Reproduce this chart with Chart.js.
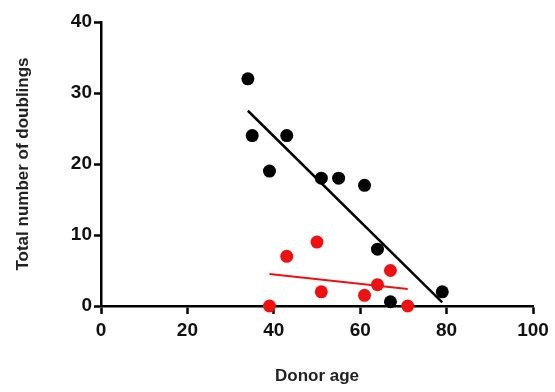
<!DOCTYPE html>
<html>
<head>
<meta charset="utf-8">
<script src="https://cdn.jsdelivr.net/npm/chart.js@4/dist/chart.umd.min.js"></script>
<style>
  html, body { margin: 0; padding: 0; background: #fff; }
  #wrap { width: 555px; height: 392px; }
</style>
</head>
<body>
<div id="wrap"><canvas id="c" width="555" height="392"></canvas></div>
<script>
const blackAge = [34, 35, 39, 43, 51, 55, 61, 64, 67, 79];
const blackDoublings = [32, 24, 19, 24, 18, 18, 17, 8, 0.6, 2];
const redAge = [39, 43, 50, 51, 61, 64, 67, 71];
const redDoublings = [0, 7, 9, 2, 1.5, 3, 5, 0];
const blackFitAge = [34, 79];
const blackFitDoublings = [27.5, 0.5];
const redFitAge = [39, 71];
const redFitDoublings = [4.5, 2.4];
const xTicks = [0, 20, 40, 60, 80, 100];
const yTicks = [0, 10, 20, 30, 40];

const pts = (xs, ys) => xs.map((x, i) => ({ x: x, y: ys[i] }));
const BLACK = '#000000';
const RED = '#ee1111';
const FAM = 'Liberation Sans, Arial, sans-serif';

new Chart(document.getElementById('c'), {
  type: 'scatter',
  data: {
    datasets: [
      { data: pts(blackFitAge, blackFitDoublings), showLine: true, borderColor: BLACK, borderWidth: 2.5, pointRadius: 0, order: 3, clip: false },
      { data: pts(redFitAge, redFitDoublings), showLine: true, borderColor: RED, borderWidth: 2, pointRadius: 0, order: 3, clip: false },
      { data: pts(redAge, redDoublings), backgroundColor: RED, borderColor: RED, borderWidth: 0, pointRadius: 6.5, order: 2, clip: false },
      { data: pts(blackAge, blackDoublings), backgroundColor: BLACK, borderColor: BLACK, borderWidth: 0, pointRadius: 6.5, order: 1, clip: false }
    ]
  },
  options: {
    responsive: false,
    animation: false,
    devicePixelRatio: 1,
    layout: { padding: { top: 22, right: 22, left: 0, bottom: 0 } },
    plugins: { legend: { display: false }, tooltip: { enabled: false } },
    scales: {
      x: {
        type: 'linear', min: 0, max: 100,
        afterBuildTicks: s => { s.ticks = xTicks.map(v => ({ value: v })); },
        afterFit: s => { s.height = 86; },
        border: { display: true, color: BLACK, width: 2.5 },
        grid: { display: true, drawOnChartArea: false, drawTicks: true, tickLength: 8, tickWidth: 2.5, tickColor: BLACK },
        ticks: { color: '#111', padding: 5, font: { family: FAM, size: 19, weight: 'bold' }, maxRotation: 0 },
        title: { display: true, text: 'Donor age', color: '#222', padding: { top: 0, bottom: 5 }, font: { family: FAM, size: 17, weight: 'bold' } }
      },
      y: {
        type: 'linear', min: 0, max: 40,
        afterBuildTicks: s => { s.ticks = yTicks.map(v => ({ value: v })); },
        afterFit: s => { s.width = 101; },
        border: { display: true, color: BLACK, width: 2.5 },
        grid: { display: true, drawOnChartArea: false, drawTicks: true, tickLength: 7, tickWidth: 2.5, tickColor: BLACK },
        ticks: { color: '#111', padding: 2, font: { family: FAM, size: 19, weight: 'bold' } },
        title: { display: true, text: 'Total number of doublings', color: '#222', padding: { top: 13, bottom: 0 }, font: { family: FAM, size: 17, weight: 'bold' } }
      }
    }
  }
});
</script>
</body>
</html>
